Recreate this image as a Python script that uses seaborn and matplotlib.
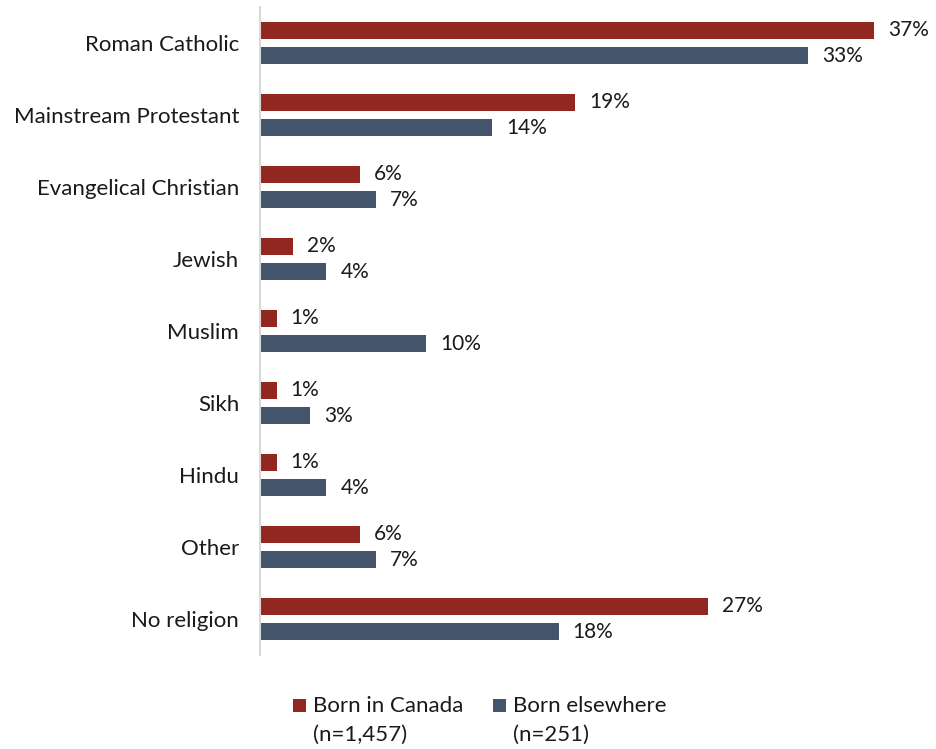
import matplotlib
matplotlib.use("Agg")
import matplotlib.pyplot as plt
import seaborn as sns
import pandas as pd
from matplotlib.patches import Rectangle

categories = ["Roman Catholic", "Mainstream Protestant", "Evangelical Christian",
              "Jewish", "Muslim", "Sikh", "Hindu", "Other", "No religion"]
born_canada = [37, 19, 6, 2, 1, 1, 1, 6, 27]
born_elsewhere = [33, 14, 7, 4, 10, 3, 4, 7, 18]
series_labels = ["Born in Canada\n(n=1,457)", "Born elsewhere\n(n=251)"]
colors = ["#922722", "#44546A"]

df = pd.DataFrame({
    "Religion": categories * 2,
    "Share": born_canada + born_elsewhere,
    "Group": [series_labels[0]] * len(categories) + [series_labels[1]] * len(categories),
})

sns.set_theme(style="white")
plt.rcParams["font.family"] = ["Lato", "DejaVu Sans"]

W, H = 936, 749
fig = plt.figure(figsize=(W / 100, H / 100), dpi=100)
ax = fig.add_axes([260 / W, 1 - 655 / H, 664 / W, 648 / H])

sns.barplot(data=df, y="Religion", x="Share", hue="Group", order=categories,
            hue_order=series_labels, palette=colors, orient="h", width=0.7,
            saturation=1, ax=ax, legend=False)

# thinner bars, keeping each centred on its slot
bar_h = 0.24
for p in ax.patches:
    cy = p.get_y() + p.get_height() / 2
    p.set_height(bar_h)
    p.set_y(cy - bar_h / 2)
    p.set_edgecolor("none")

for cont in ax.containers:
    ax.bar_label(cont, labels=[f"{v:.0f}%" for v in cont.datavalues],
                 padding=10, fontsize=15, color="#1a1a1a")

ax.set_xlim(0, 40)
ax.set_ylim(len(categories) - 0.5, -0.5)
ax.set_xlabel("")
ax.set_ylabel("")
ax.set_xticks([])
ax.tick_params(axis="y", length=0, pad=15, labelsize=16, labelcolor="#1a1a1a")
for s in ["top", "right", "bottom"]:
    ax.spines[s].set_visible(False)
ax.spines["left"].set_color("#d9d9d9")
ax.spines["left"].set_linewidth(1.5)

# legend: colour square beside a two-line label
legend_x = [293, 493]
for x0, c, lab in zip(legend_x, colors, series_labels):
    fig.patches.append(Rectangle((x0 / W, 1 - 712 / H), 13 / W, 13 / H,
                                 transform=fig.transFigure, facecolor=c,
                                 edgecolor="none"))
    fig.text((x0 + 20) / W, 1 - 696 / H, lab, ha="left", va="top", fontsize=16,
             linespacing=1.55, color="#1a1a1a")

fig.savefig("out.png", dpi=100, facecolor="white")
